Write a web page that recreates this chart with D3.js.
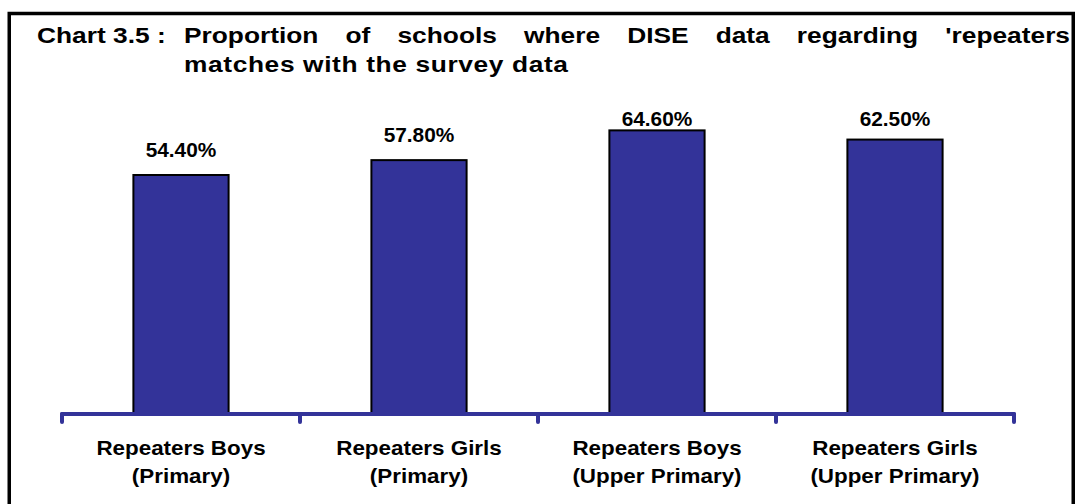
<!DOCTYPE html>
<html>
<head>
<meta charset="utf-8">
<script src="https://cdn.jsdelivr.net/npm/d3@7"></script>
<style>
  html, body { margin: 0; padding: 0; background: #fff; }
  svg { display: block; }
  text { font-family: "Liberation Sans", Arial, Helvetica, sans-serif; font-weight: bold; fill: #000; }
</style>
</head>
<body>
<svg id="chart" width="1077" height="504"></svg>
<script>
// Chart content
const titleLead = "Chart 3.5 :";
const titleLine1 = ["Proportion", "of", "schools", "where", "DISE", "data", "regarding", "'repeaters"];
const titleLine2 = "matches with the survey data";

const categoryLine1 = ["Repeaters Boys", "Repeaters Girls", "Repeaters Boys", "Repeaters Girls"];
const categoryLine2 = ["(Primary)", "(Primary)", "(Upper Primary)", "(Upper Primary)"];
const categories = categoryLine1.map((d, i) => d + " " + categoryLine2[i]);
const values = [54.4, 57.8, 64.6, 62.5];
const valueLabels = ["54.40%", "57.80%", "64.60%", "62.50%"];

const W = 1077, H = 504;
const svg = d3.select("#chart");
const barColor = "#333399";

// Outer frame (bottom edge runs off the canvas)
svg.append("rect")
  .attr("x", 9.25).attr("y", 13.5)
  .attr("width", 1064).attr("height", 520)
  .attr("fill", "none").attr("stroke", "#000").attr("stroke-width", 3.5);

// Text helper with a slight horizontal stretch
function stretchedText(g, x, y, str, size, sx, anchor) {
  return g.append("text")
    .attr("transform", `translate(${x},${y}) scale(${sx},1)`)
    .attr("text-anchor", anchor || "start")
    .style("font-size", size + "px")
    .text(str);
}

// Title: first line justified between the indent and the right frame
const titleG = svg.append("g");
const tSize = 22.5, tSx = 1.17;
const indentX = 184, rightX = 1070;
stretchedText(titleG, 37, 43, titleLead, tSize, tSx);
const words = titleLine1.map(w => stretchedText(titleG, 0, 43, w, tSize, tSx));
const widths = words.map(t => t.node().getComputedTextLength() * tSx);
const gap = (rightX - indentX - d3.sum(widths)) / (words.length - 1);
let cx = indentX;
words.forEach((t, i) => {
  t.attr("transform", `translate(${cx},43) scale(${tSx},1)`);
  cx += widths[i] + gap;
});
stretchedText(titleG, indentX, 72, titleLine2, tSize, tSx)
  .attr("textLength", 384 / tSx)
  .attr("lengthAdjust", "spacing");

// Scales
const x = d3.scaleBand()
  .domain(categories)
  .range([62, 1014])
  .paddingInner(0.6)
  .paddingOuter(0.3);
const y = d3.scaleLinear().domain([0, 70]).range([413, 106.75]);

// Bars
svg.append("g").selectAll("rect")
  .data(values)
  .join("rect")
  .attr("x", (d, i) => x(categories[i]))
  .attr("y", d => y(d))
  .attr("width", x.bandwidth())
  .attr("height", d => y(0) - y(d))
  .attr("fill", barColor)
  .attr("stroke", "#000")
  .attr("stroke-width", 2);

// Category axis along the baseline, ticks at category boundaries
const axisG = svg.append("g").attr("transform", `translate(0,${y(0) + 1})`);
const axis = d3.axisBottom(x).tickSize(0).tickFormat("");
axisG.call(axis);
axisG.select(".domain").remove();
const [r0, r1] = x.range();
const step = x.step();
axisG.append("line")
  .attr("x1", r0).attr("x2", r1)
  .attr("stroke", barColor).attr("stroke-width", 4).attr("stroke-linecap", "round");
axisG.selectAll(".boundary")
  .data(d3.range(categories.length + 1))
  .join("line")
  .attr("class", "boundary")
  .attr("x1", i => r0 + i * step).attr("x2", i => r0 + i * step)
  .attr("y1", 0).attr("y2", 8)
  .attr("stroke", barColor).attr("stroke-width", 4).attr("stroke-linecap", "round");

// Category labels (two lines)
const labG = svg.append("g");
categories.forEach((c, i) => {
  const mx = x(c) + x.bandwidth() / 2;
  stretchedText(labG, mx, 455, categoryLine1[i], 20, 1.12, "middle");
  stretchedText(labG, mx, 483, categoryLine2[i], 20, 1.12, "middle");
});

// Value labels above bars, kept below the title
const valG = svg.append("g");
values.forEach((v, i) => {
  const mx = x(categories[i]) + x.bandwidth() / 2;
  const ly = Math.max(y(v) - 18, 126);
  stretchedText(valG, mx, ly, valueLabels[i], 19.5, 1.07, "middle");
});
</script>
</body>
</html>
